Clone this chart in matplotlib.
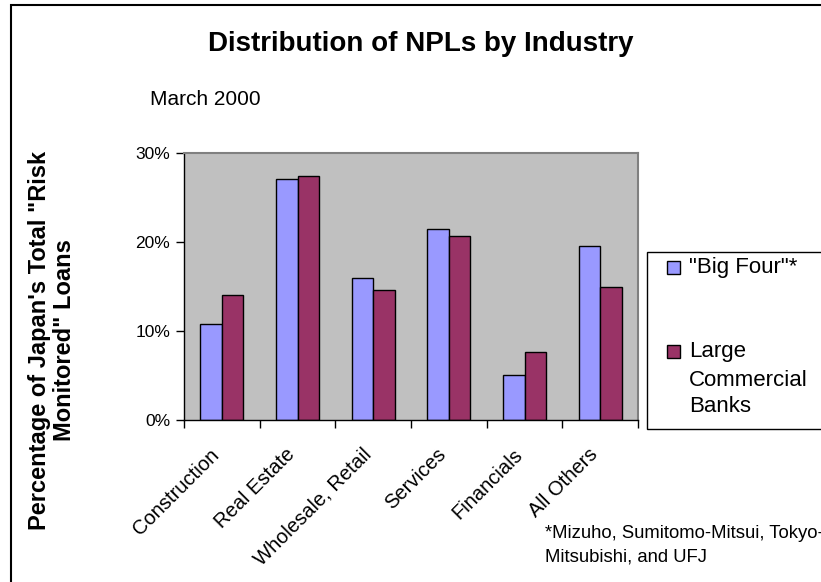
import numpy as np
import matplotlib
matplotlib.use("Agg")
import matplotlib.pyplot as plt
import matplotlib.transforms as mtransforms
from matplotlib.patches import Rectangle
from matplotlib.ticker import PercentFormatter

# data
industries = ["Construction", "Real Estate", "Wholesale, Retail",
              "Services", "Financials", "All Others"]
big_four = [10.8, 27.1, 15.9, 21.5, 5.1, 19.5]
large_commercial = [14.0, 27.4, 14.6, 20.7, 7.6, 15.0]
series_names = ['"Big Four"*', "Large\nCommercial\nBanks"]
colors = ["#9999FF", "#993366"]

plt.rcParams["font.family"] = ["Liberation Sans", "DejaVu Sans"]

W, H = 821, 582
fig = plt.figure(figsize=(W / 100, H / 100), dpi=100)


def fx(px):
    return px / W


def fy(py):
    return 1 - py / H


ax = fig.add_axes([fx(184), fy(420), fx(638) - fx(184), fy(153) - fy(420)])
ax.set_facecolor("#C0C0C0")

x = np.arange(len(industries))
w = 0.285
ax.bar(x - w / 2, big_four, w, color=colors[0], edgecolor="black", lw=1)
ax.bar(x + w / 2, large_commercial, w, color=colors[1], edgecolor="black", lw=1)

ax.set_xlim(-0.5, len(industries) - 0.5)
ax.set_ylim(0, 30)
ax.set_yticks([0, 10, 20, 30])
ax.yaxis.set_major_formatter(PercentFormatter(decimals=0))
ax.tick_params(axis="y", direction="out", length=6, width=1, labelsize=12.5, pad=4)

ax.set_xticks(x)
ax.set_xticklabels(industries, rotation=45, ha="right", va="top",
                   rotation_mode="anchor", fontsize=14.5)
ax.tick_params(axis="x", which="major", length=0, pad=18)
ax.set_xticks(np.arange(-0.5, len(industries)), minor=True)
ax.tick_params(axis="x", which="minor", direction="out", length=6, width=1)

# nudge the slanted labels a bit left, like the original
shift = mtransforms.ScaledTranslation(-12 / 100, 0, fig.dpi_scale_trans)
for lbl in ax.get_xticklabels():
    lbl.set_transform(lbl.get_transform() + shift)

for side in ["top", "right"]:
    ax.spines[side].set_color("#808080")
    ax.spines[side].set_linewidth(1.5)
for side in ["left", "bottom"]:
    ax.spines[side].set_color("black")
    ax.spines[side].set_linewidth(1)

# titles
fig.text(fx(421), fy(44), "Distribution of NPLs by Industry", fontsize=20,
         fontweight="bold", ha="center", va="center")
fig.text(fx(150), fy(99), "March 2000", fontsize=15, ha="left", va="center")
fig.text(fx(52), fy(340), 'Percentage of Japan\'s Total "Risk\nMonitored" Loans',
         fontsize=17, fontweight="bold", rotation=90, ha="center", va="center",
         multialignment="center", linespacing=1.15)

# legend drawn by hand
fig.patches.append(Rectangle((fx(647), fy(429)), fx(200), fy(252) - fy(429),
                             transform=fig.transFigure, facecolor="white",
                             edgecolor="black", lw=1))
leg_rows = [[268], [352, 380, 407]]
for name, color, rows in zip(series_names, colors, leg_rows):
    fig.patches.append(Rectangle((fx(667), fy(rows[0] + 6)), fx(13), fy(0) - fy(13),
                                 transform=fig.transFigure, facecolor=color,
                                 edgecolor="black", lw=1))
    for line, yy in zip(name.split("\n"), rows):
        fig.text(fx(689), fy(yy), line, fontsize=16, ha="left", va="center")

# footnote
fig.text(fx(545), fy(534), "*Mizuho, Sumitomo-Mitsui, Tokyo-", fontsize=13.3,
         ha="left", va="center")
fig.text(fx(545), fy(557), "Mitsubishi, and UFJ", fontsize=13.3,
         ha="left", va="center")

# outer border
fig.patches.append(Rectangle((fx(11), fy(700)), fx(900), fy(5) - fy(700),
                             transform=fig.transFigure, facecolor="none",
                             edgecolor="black", lw=1.5))

fig.savefig("out.png", dpi=100)
